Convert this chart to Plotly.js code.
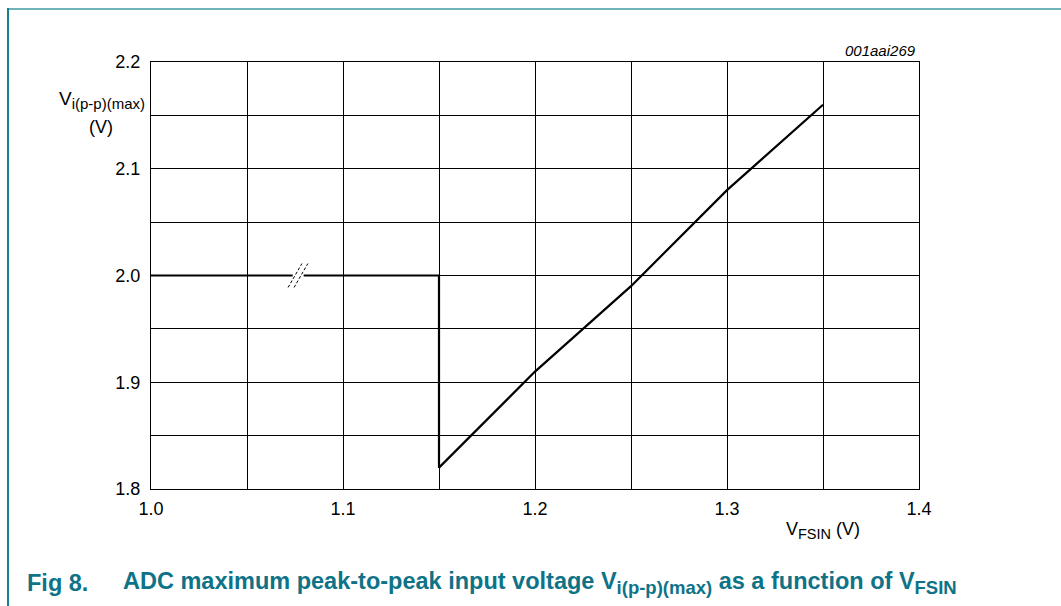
<!DOCTYPE html>
<html>
<head>
<meta charset="utf-8">
<script src="https://cdn.plot.ly/plotly-3.0.1.min.js"></script>
<style>
  html, body { margin: 0; padding: 0; background: #fff; }
  #wrap { position: relative; width: 1061px; height: 606px; overflow: hidden; }
  #chart { position: absolute; left: 0; top: 0; width: 1061px; height: 606px; }
  #frameTop { position: absolute; left: 8px; top: 8px; width: 1053px; height: 2px; background: #6fb2ba; }
  #frameLeft { position: absolute; left: 7px; top: 8px; width: 2px; height: 598px; background: #1a7e90; }
</style>
</head>
<body>
<div id="wrap">
  <div id="chart"></div>
  <div id="frameTop"></div>
  <div id="frameLeft"></div>
</div>
<script>
// Data
const vfsin = [1.0, 1.15, 1.15, 1.2, 1.25, 1.3, 1.35];
const vipp  = [2.0, 2.0, 1.82, 1.91, 1.99, 2.08, 2.16];

// axis break marker (two dashed slashes on the flat segment)
const breakGapX = [1.0738, 1.0795];
const breakGapY = [2.0, 2.0];
const breakX = [1.0714, 1.0786, null, 1.0745, 1.0817];
const breakY = [1.9888, 2.0112, null, 1.9888, 2.0112];

const xTickVals = [1.0, 1.05, 1.1, 1.15, 1.2, 1.25, 1.3, 1.35, 1.4];
const xTickText = ["1.0", "", "1.1", "", "1.2", "", "1.3", "", "1.4"];
const yTickVals = [1.8, 1.85, 1.9, 1.95, 2.0, 2.05, 2.1, 2.15, 2.2];
const yTickText = ["1.8", "", "1.9", "", "2.0", "", "2.1", "", "2.2"];

const FONT = "Liberation Sans, Arial, sans-serif";
const TEAL = "#0e7387";

const traces = [
  {
    x: vfsin, y: vipp, type: "scatter", mode: "lines",
    line: {color: "#000", width: 2.2}, hoverinfo: "skip", showlegend: false
  },
  {
    x: breakGapX, y: breakGapY, type: "scatter", mode: "lines",
    line: {color: "#fff", width: 4}, hoverinfo: "skip", showlegend: false
  },
  {
    x: breakX, y: breakY, type: "scatter", mode: "lines",
    line: {color: "#000", width: 1, dash: "3px,2px"}, hoverinfo: "skip", showlegend: false
  }
];

const L = 151, R = 919, T = 62, B = 489;
const W = R - L, H = B - T;
const px = v => (v - L) / W;
const py = v => (B - v) / H;

const sub = (t, s) => "<sub><span style=\"font-size:" + s + "px\">" + t + "</span></sub>";

const layout = {
  width: 1061, height: 606,
  margin: {l: L, r: 1061 - R, t: T, b: 606 - B, pad: 0},
  paper_bgcolor: "#fff", plot_bgcolor: "#fff",
  font: {family: FONT, size: 18, color: "#000"},
  showlegend: false,
  xaxis: {
    range: [1.0, 1.4], tickmode: "array", tickvals: xTickVals, ticktext: xTickText,
    showgrid: true, gridcolor: "#000", gridwidth: 1,
    showline: true, linecolor: "#000", linewidth: 1, mirror: true,
    zeroline: false, ticks: "", ticklabelstandoff: 3,
    tickfont: {family: FONT, size: 18, color: "#000"}, fixedrange: true
  },
  yaxis: {
    range: [1.8, 2.2], tickmode: "array", tickvals: yTickVals, ticktext: yTickText,
    showgrid: true, gridcolor: "#000", gridwidth: 1,
    showline: true, linecolor: "#000", linewidth: 1, mirror: true,
    zeroline: false, ticks: "", ticklabelstandoff: 6,
    tickfont: {family: FONT, size: 18, color: "#000"}, fixedrange: true
  },
  annotations: [
    {text: "V" + sub("i(p-p)(max)", 15), xref: "paper", yref: "paper",
     x: px(147), y: py(100), xanchor: "right", yanchor: "middle", showarrow: false,
     font: {family: FONT, size: 19, color: "#000"}},
    {text: "(V)", xref: "paper", yref: "paper",
     x: px(101), y: py(127), xanchor: "center", yanchor: "middle", showarrow: false,
     font: {family: FONT, size: 18, color: "#000"}},
    {text: "V" + sub("FSIN", 14.5) + " (V)", xref: "paper", yref: "paper",
     x: px(823), y: py(530), xanchor: "center", yanchor: "middle", showarrow: false,
     font: {family: FONT, size: 18, color: "#000"}},
    {text: "<i>001aai269</i>", xref: "paper", yref: "paper",
     x: px(918), y: py(51), xanchor: "right", yanchor: "middle", showarrow: false,
     font: {family: FONT, size: 15, color: "#000"}},
    {text: "<b>Fig 8.</b>", xref: "paper", yref: "paper",
     x: px(25), y: py(583), xanchor: "left", yanchor: "middle", showarrow: false,
     font: {family: FONT, size: 23.5, color: TEAL}},
    {text: "<b>ADC maximum peak-to-peak input voltage V" + sub("i(p-p)(max)", 18.5) +
           " as a function of V" + sub("FSIN", 18.5) + "</b>",
     xref: "paper", yref: "paper",
     x: px(121), y: py(583), xanchor: "left", yanchor: "middle", showarrow: false,
     font: {family: FONT, size: 23.5, color: TEAL}}
  ]
};

Plotly.newPlot("chart", traces, layout, {displayModeBar: false, staticPlot: true});
</script>
</body>
</html>
